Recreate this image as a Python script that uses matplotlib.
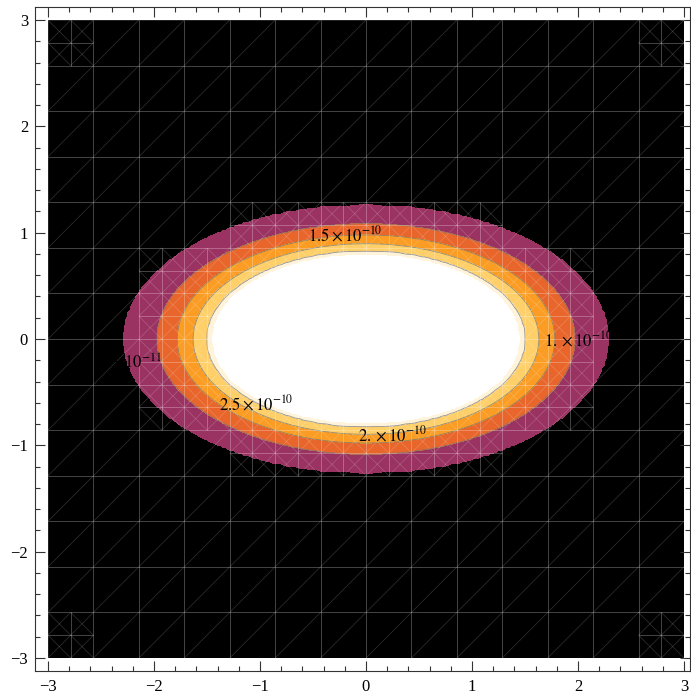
import numpy as np
import matplotlib.pyplot as plt
from matplotlib.collections import LineCollection

plt.rcParams['font.family'] = 'serif'
plt.rcParams['font.serif'] = ['Liberation Serif', 'DejaVu Serif']
plt.rcParams['mathtext.fontset'] = 'stix'

# contour levels and where each one crosses the x axis
levels = [3e-10, 2.5e-10, 2e-10, 1.5e-10, 1e-10, 5e-11]
x_radius = [1.45, 1.50, 1.63, 1.78, 1.97, 2.28]
y_squash = 1.82      # x radius / y radius of the ellipses
peak = 6e-10

fill_bounds = [-1, 5e-11, 1e-10, 1.5e-10, 2e-10, 2.5e-10, 3e-10, 1]
fill_colors = ['#000000', '#9a3362', '#e8662b', '#fb9d24', '#ffd06a', '#fff3da', '#ffffff']
line_levels = [1e-10, 1.5e-10, 2e-10, 2.5e-10]

label_text = [r'$1.5\times10^{-10}$', r'$1.\times10^{-10}$', r'$2.5\times10^{-10}$',
              r'$2.\times10^{-10}$', r'$5.\times10^{-11}$']
label_x = [-0.20, 2.00, -1.04, 0.25, -2.25]
label_y = [0.98, -0.01, -0.615, -0.90, -0.225]

g = np.linspace(-3, 3, 241)
X, Y = np.meshgrid(g, g)
rho = np.sqrt(X**2 + (y_squash * Y)**2)
Z = np.interp(rho, [0] + x_radius + [4.5], [peak] + levels + [0])

fig = plt.figure(figsize=(6.91, 6.98), dpi=100)
ax = fig.add_axes([35/691, 27/698, 655/691, 664/698])
ax.set_facecolor('white')

ax.contourf(X, Y, Z, levels=fill_bounds, colors=fill_colors, zorder=1)
ax.contour(X, Y, Z, levels=line_levels, colors='#777777', linewidths=0.6, alpha=0.8, zorder=2)

# triangle mesh drawn over the fill
segs = []
n = 14
edges = np.linspace(-3, 3, n + 1)
h = edges[1] - edges[0]
for i in range(n):
    for j in range(n):
        x0, y0 = edges[i], edges[j]
        rc = np.hypot(x0 + h/2, y_squash * (y0 + h/2))
        corner = (i in (0, n-1)) and (j in (0, n-1))
        if (1.0 < rc < 2.3) or corner:
            s = h / 2
            for a in range(2):
                for b in range(2):
                    u, v = x0 + a*s, y0 + b*s
                    segs += [[(u, v), (u+s, v)], [(u, v), (u, v+s)],
                             [(u+s, v), (u+s, v+s)], [(u, v+s), (u+s, v+s)],
                             [(u, v), (u+s, v+s)], [(u+s, v), (u, v+s)]]
        else:
            segs += [[(x0, y0), (x0+h, y0)], [(x0, y0), (x0, y0+h)],
                     [(x0+h, y0), (x0+h, y0+h)], [(x0, y0+h), (x0+h, y0+h)],
                     [(x0, y0), (x0+h, y0+h)]]
ax.add_collection(LineCollection(segs, colors='white', linewidths=0.5, alpha=0.2, zorder=3))

for t, lx, ly in zip(label_text, label_x, label_y):
    ax.text(lx, ly, t, fontsize=12, color='black', ha='center', va='center', zorder=5)

ax.set_xlim(-3 - 13/106, 3 + 6/106)
ax.set_ylim(-3 - 13/106.3, 3 + 13/106.3)
ax.set_xticks(np.arange(-3, 4))
ax.set_yticks(np.arange(-3, 4))
ax.set_xticks(np.arange(-3, 3.01, 0.2), minor=True)
ax.set_yticks(np.arange(-3, 3.01, 0.2), minor=True)
ax.tick_params(which='both', direction='in', top=True, right=True, color='#333333', width=0.8)
ax.tick_params(which='major', length=7, labelsize=12)
ax.tick_params(axis='x', which='major', pad=6)
ax.tick_params(axis='y', which='major', pad=5)
ax.tick_params(which='minor', length=3.8)
for sp in ax.spines.values():
    sp.set_color('#333333')
    sp.set_linewidth(0.8)

fig.savefig('out.png', dpi=100)
